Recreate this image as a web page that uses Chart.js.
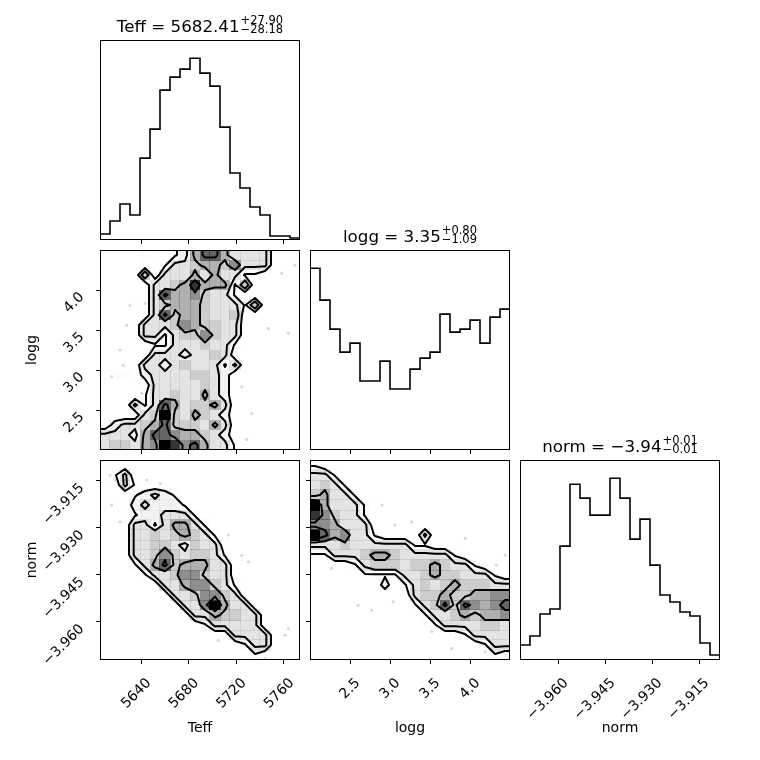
<!DOCTYPE html>
<html>
<head>
<meta charset="utf-8">
<title>corner plot</title>
<script src="https://cdn.jsdelivr.net/npm/chart.js@4.4.1/dist/chart.umd.min.js"></script>
<style>
  html, body { margin: 0; padding: 0; background: #fff; }
  #fig { position: relative; width: 760px; height: 760px; overflow: hidden; font-family: "DejaVu Sans", sans-serif; }
  .cell { position: absolute; width: 340px; height: 340px; }
  .ttl { position: absolute; width: 200px; text-align: center; font-size: 16.7px; line-height: 17px; white-space: nowrap; color: #000; }
  .ss { display: inline-block; vertical-align: -2px; font-size: 11.5px; line-height: 9.5px; text-align: left; margin-left: 1px; }
</style>
</head>
<body>
<div id="fig"></div>
<script>
// Parameter ranges (axis limits) and tick values
const TEFF_RANGE = [5605.5, 5773.5];
const LOGG_RANGE = [2.0, 4.5];
const NORM_RANGE = [-3.9722, -3.9083];

const TEFF_TICKS = [5640, 5680, 5720, 5760];
const LOGG_TICKS = [2.5, 3.0, 3.5, 4.0];
const NORM_TICKS = [-3.960, -3.945, -3.930, -3.915];

// 1D histograms, 20 bins each
const TEFF_COUNTS = [6, 19, 36, 25, 82, 111, 150, 163, 171, 182, 167, 154, 113, 67, 52, 33, 25, 4, 4, 2];
const LOGG_COUNTS = [182, 150, 121, 98, 107, 69, 69, 89, 61, 61, 81, 92, 98, 136, 118, 121, 130, 107, 133, 141];
const NORM_COUNTS = [15, 24, 46, 51, 114, 176, 162, 145, 145, 182, 162, 121, 141, 95, 65, 58, 48, 44, 17, 5];

// Titles: name, median, +err, -err
const TITLE_NAMES = ['Teff', 'logg', 'norm'];
const TITLE_MEDIANS = ['5682.41', '3.35', '\u22123.94'];
const TITLE_PLUS = ['+27.90', '+0.80', '+0.01'];
const TITLE_MINUS = ['\u221228.18', '\u22121.09', '\u22120.01'];

// 2D histograms, 20x20 bins, rows from top (high y) to bottom
const GRID_TEFF_LOGG = [
  '00001001257753333000',
  '00000013345546333000',
  '00004033353533110000',
  '00000334585551400000',
  '00000375564331000000',
  '00000345554333140000',
  '00000374554334000000',
  '00003334654433000000',
  '00003313446433000000',
  '00000113334331000000',
  '00000333233430000000',
  '00003323433313000000',
  '01102333344320000000',
  '00000333334320000000',
  '00001334335320000000',
  '00031375344530000000',
  '00003494354320000000',
  '02334574443530000000',
  '33325776554320000000',
  '34435698675331000000'
];
const GRID_TEFF_NORM = [
  '00000000000000000000',
  '01300000000000000000',
  '00310000000000000000',
  '00012321000000000000',
  '00023222100000000000',
  '00012233310000000000',
  '00033135531000000000',
  '00033434543100000000',
  '00033443243300000000',
  '00033464344310000000',
  '00013574555330000000',
  '00001334664330000000',
  '00000033566431000000',
  '00000003346643000000',
  '00000000336953300000',
  '00000000033544330000',
  '00000000001333330000',
  '00000000000003333000',
  '00000000000000133000',
  '00000000000000010000'
];
const GRID_LOGG_NORM = [
  '10000000000000000000',
  '33100000000000000000',
  '34310000000000000000',
  '45331000000000000000',
  '95333100000000000000',
  '86433100000000000000',
  '66533300000000000000',
  '97563310000300000000',
  '33343333331100000000',
  '11333455433333100000',
  '00001344434454331000',
  '00000111133454433310',
  '00000002013434544433',
  '00000000003445445566',
  '00000000001347476567',
  '00000000000133454556',
  '00000000000013333443',
  '00000000000000013333',
  '00000000000000000133',
  '00000000000000000010'
];
const CONTOUR_LEVELS = [1.2, 2.6, 4.5, 6.5];

// Stray samples outside the contours
const PTS_TEFF_LOGG = [[5630.7, 3.81], [5643.3, 3.83], [5627.9, 3.56], [5622.3, 3.25], [5625.1, 3.06], [5615.3, 2.92],
  [5763.7, 3.46], [5758.1, 4.21], [5769.3, 4.31], [5746.9, 3.52], [5724.5, 2.79], [5732.9, 2.46], [5728.7, 2.13], [5640.5, 2.71]];
const PTS_TEFF_NORM = [[5613.9, -3.9131], [5618.1, -3.9147], [5615.3, -3.9227], [5622.3, -3.9280], [5630.7, -3.9323], [5644.7, -3.9147],
  [5656.0, -3.9158], [5713.3, -3.9323], [5724.5, -3.9387], [5730.1, -3.9408], [5761.0, -3.9643], [5744.1, -3.9717], [5704.9, -3.9659], [5763.7, -3.9621]];
const PTS_LOGG_NORM = [[2.19, -3.9115], [2.50, -3.9179], [2.58, -3.9216], [2.90, -3.9227], [3.06, -3.9291], [3.27, -3.9280], [2.27, -3.9429], [2.60, -3.9547],
  [2.77, -3.9563], [3.04, -3.9536], [3.52, -3.9632], [3.77, -3.9685], [4.19, -3.9696], [4.44, -3.9387], [3.94, -3.9333], [4.33, -3.9419]];

const FONT = { family: 'DejaVu Sans', size: 14 };
const fmtMinus = s => s.replace('-', '\u2212');

const AXES = {
  teff: { range: TEFF_RANGE, ticks: TEFF_TICKS, title: 'Teff', fmt: v => String(Math.round(v)) },
  logg: { range: LOGG_RANGE, ticks: LOGG_TICKS, title: 'logg', fmt: v => v.toFixed(1) },
  norm: { range: NORM_RANGE, ticks: NORM_TICKS, title: 'norm', fmt: v => fmtMinus(v.toFixed(3)) }
};

const PANELS = [
  { r: 0, c: 0, x: 'teff', counts: TEFF_COUNTS },
  { r: 1, c: 0, x: 'teff', y: 'logg', grid: GRID_TEFF_LOGG, pts: PTS_TEFF_LOGG },
  { r: 1, c: 1, x: 'logg', counts: LOGG_COUNTS },
  { r: 2, c: 0, x: 'teff', y: 'norm', grid: GRID_TEFF_NORM, pts: PTS_TEFF_NORM },
  { r: 2, c: 1, x: 'logg', y: 'norm', grid: GRID_LOGG_NORM, pts: PTS_LOGG_NORM },
  { r: 2, c: 2, x: 'norm', counts: NORM_COUNTS }
];

const fig = document.getElementById('fig');

// grid rows (top first) -> H[ix][iy] with iy = 0 at the bottom
function parseGrid(rows) {
  const ny = rows.length, nx = rows[0].length;
  const H = [];
  for (let ix = 0; ix < nx; ix++) {
    H.push([]);
    for (let iy = 0; iy < ny; iy++) H[ix].push(+rows[ny - 1 - iy][ix]);
  }
  return H;
}

// pad like corner does so contours close past the edges
function padGrid(H) {
  const nx = H.length, ny = H[0].length;
  const P = Array.from({ length: nx + 4 }, () => new Array(ny + 4).fill(0));
  for (let i = 0; i < nx; i++) for (let j = 0; j < ny; j++) P[i + 2][j + 2] = H[i][j];
  for (let j = 0; j < ny; j++) { P[1][j + 2] = H[0][j]; P[nx + 2][j + 2] = H[nx - 1][j]; }
  for (let i = 0; i < nx; i++) { P[i + 2][1] = H[i][0]; P[i + 2][ny + 2] = H[i][ny - 1]; }
  P[1][1] = H[0][0]; P[nx + 2][1] = H[nx - 1][0]; P[1][ny + 2] = H[0][ny - 1]; P[nx + 2][ny + 2] = H[nx - 1][ny - 1];
  return P;
}

// marching squares on bin centres
function contourSegments(P, cx, cy, level) {
  const segs = [];
  const cross = (v1, v2) => (v1 >= level) !== (v2 >= level);
  const t = (v1, v2) => (level - v1) / (v2 - v1);
  for (let i = 0; i < P.length - 1; i++) {
    for (let j = 0; j < P[0].length - 1; j++) {
      const a = P[i][j], b = P[i + 1][j], c = P[i + 1][j + 1], d = P[i][j + 1];
      const x0 = cx[i], x1 = cx[i + 1], y0 = cy[j], y1 = cy[j + 1];
      const pts = [null, null, null, null];
      if (cross(a, b)) pts[0] = [x0 + t(a, b) * (x1 - x0), y0];
      if (cross(b, c)) pts[1] = [x1, y0 + t(b, c) * (y1 - y0)];
      if (cross(d, c)) pts[2] = [x0 + t(d, c) * (x1 - x0), y1];
      if (cross(a, d)) pts[3] = [x0, y0 + t(a, d) * (y1 - y0)];
      const idx = [0, 1, 2, 3].filter(k => pts[k]);
      if (idx.length === 2) {
        segs.push([pts[idx[0]], pts[idx[1]]]);
      } else if (idx.length === 4) {
        const mid = (a + b + c + d) / 4 >= level;
        if ((a >= level) === mid) segs.push([pts[0], pts[1]], [pts[2], pts[3]]);
        else segs.push([pts[3], pts[0]], [pts[1], pts[2]]);
      }
    }
  }
  return segs;
}

function densityPlugin(p) {
  const H = parseGrid(p.grid);
  const P = padGrid(H);
  const xr = AXES[p.x].range, yr = AXES[p.y].range;
  const nx = H.length, ny = H[0].length;
  const dx = (xr[1] - xr[0]) / nx, dy = (yr[1] - yr[0]) / ny;
  const cx = P.map((_, k) => xr[0] + (k - 1.5) * dx);
  const cy = P[0].map((_, k) => yr[0] + (k - 1.5) * dy);
  const vmax = Math.max(...H.map(col => Math.max(...col)));
  return {
    id: 'density',
    afterDatasetsDraw(chart) {
      const { ctx, chartArea: a } = chart;
      const xs = chart.scales.x, ys = chart.scales.y;
      ctx.save();
      ctx.beginPath();
      ctx.rect(a.left, a.top, a.right - a.left, a.bottom - a.top);
      ctx.clip();
      // grey density cells: black -> transparent white
      for (let i = 0; i < nx; i++) {
        for (let j = 0; j < ny; j++) {
          const v = H[i][j];
          if (!v) continue;
          const f = v / vmax;
          const g = Math.round(255 * (1 - f));
          const px0 = Math.floor(xs.getPixelForValue(xr[0] + i * dx));
          const px1 = Math.ceil(xs.getPixelForValue(xr[0] + (i + 1) * dx));
          const py0 = Math.floor(ys.getPixelForValue(yr[0] + (j + 1) * dy));
          const py1 = Math.ceil(ys.getPixelForValue(yr[0] + j * dy));
          ctx.fillStyle = `rgba(${g},${g},${g},${f.toFixed(3)})`;
          ctx.fillRect(px0, py0, px1 - px0, py1 - py0);
        }
      }
      // contour lines
      ctx.strokeStyle = '#000';
      ctx.lineWidth = 2;
      ctx.lineCap = 'round';
      ctx.lineJoin = 'round';
      CONTOUR_LEVELS.forEach(L => {
        ctx.beginPath();
        contourSegments(P, cx, cy, L).forEach(([s, e]) => {
          ctx.moveTo(xs.getPixelForValue(s[0]), ys.getPixelForValue(s[1]));
          ctx.lineTo(xs.getPixelForValue(e[0]), ys.getPixelForValue(e[1]));
        });
        ctx.stroke();
      });
      ctx.restore();
    }
  };
}

const framePlugin = {
  id: 'frame',
  afterDraw(chart) {
    const { ctx, chartArea: a } = chart;
    ctx.save();
    ctx.strokeStyle = '#000';
    ctx.lineWidth = 1;
    ctx.strokeRect(a.left + 0.5, a.top + 0.5, a.right - a.left - 1, a.bottom - a.top - 1);
    ctx.restore();
  }
};

function tickMarks() {
  return { display: true, drawOnChartArea: false, drawTicks: true, tickLength: 4, color: '#000', lineWidth: 1 };
}

function makeChart(p) {
  const left = 100 + 210 * p.c, top = 40 + 210 * p.r;
  const box = document.createElement('div');
  box.className = 'cell';
  box.style.left = (left - 100) + 'px';
  box.style.top = (top - 40) + 'px';
  const cv = document.createElement('canvas');
  box.appendChild(cv);
  fig.appendChild(box);

  const bottomRow = p.r === 2;
  const ax = AXES[p.x];
  const x = {
    type: 'linear', min: ax.range[0], max: ax.range[1],
    afterBuildTicks: s => { s.ticks = ax.ticks.map(v => ({ value: v })); },
    afterFit: s => { s.height = 100; },
    ticks: { display: bottomRow, minRotation: 45, maxRotation: 45, autoSkip: false, padding: 11, labelOffset: 8,
      font: FONT, color: '#000', callback: v => ax.fmt(v) },
    grid: tickMarks(),
    border: { display: false },
    title: { display: bottomRow, text: ax.title, font: FONT, color: '#000', padding: { top: 0, bottom: 23 } }
  };

  let y, datasets, plugins = [framePlugin];
  if (p.counts) {
    const n = p.counts.length;
    const step = (ax.range[1] - ax.range[0]) / n;
    const pts = [{ x: ax.range[0], y: 0 }];
    p.counts.forEach((c, i) => pts.push({ x: ax.range[0] + i * step, y: c }));
    pts.push({ x: ax.range[1], y: p.counts[n - 1] }, { x: ax.range[1], y: 0 });
    datasets = [{ data: pts, showLine: true, stepped: 'before', borderColor: '#000', borderWidth: 1.6, pointRadius: 0, fill: false }];
    y = {
      type: 'linear', min: 0, max: 1.1 * Math.max(...p.counts),
      afterFit: s => { s.width = 100; },
      ticks: { display: false }, grid: { display: false }, border: { display: false }
    };
  } else {
    const ay = AXES[p.y];
    const leftCol = p.c === 0;
    datasets = [{ data: p.pts.map(([a, b]) => ({ x: a, y: b })), pointRadius: 1.5, borderWidth: 0,
      backgroundColor: 'rgba(0,0,0,0.16)' }];
    y = {
      type: 'linear', min: ay.range[0], max: ay.range[1],
      afterBuildTicks: s => { s.ticks = ay.ticks.map(v => ({ value: v })); },
      afterFit: s => { s.width = 100; },
      ticks: { display: leftCol, minRotation: 45, maxRotation: 45, autoSkip: false, padding: 14, labelOffset: 5,
        font: FONT, color: '#000', callback: v => ay.fmt(v) },
      grid: tickMarks(),
      border: { display: false },
      title: { display: leftCol, text: ay.title, font: FONT, color: '#000', padding: { top: 24, bottom: 0 } }
    };
    plugins = [densityPlugin(p), framePlugin];
  }

  new Chart(cv.getContext('2d'), {
    type: 'scatter',
    data: { datasets },
    options: {
      responsive: true,
      maintainAspectRatio: false,
      animation: false,
      layout: { padding: { top: 40, right: 40, left: 0, bottom: 0 } },
      plugins: { legend: { display: false }, tooltip: { enabled: false } },
      scales: { x, y }
    },
    plugins
  });
}

PANELS.forEach(makeChart);

// titles above the diagonal panels
TITLE_NAMES.forEach((name, i) => {
  const t = document.createElement('div');
  t.className = 'ttl';
  t.style.left = (100 + 210 * i) + 'px';
  t.style.top = (40 + 210 * i - 24.5) + 'px';
  t.innerHTML = `${name} = ${TITLE_MEDIANS[i]}<span class="ss">${TITLE_PLUS[i]}<br>${TITLE_MINUS[i]}</span>`;
  fig.appendChild(t);
});
</script>
</body>
</html>
